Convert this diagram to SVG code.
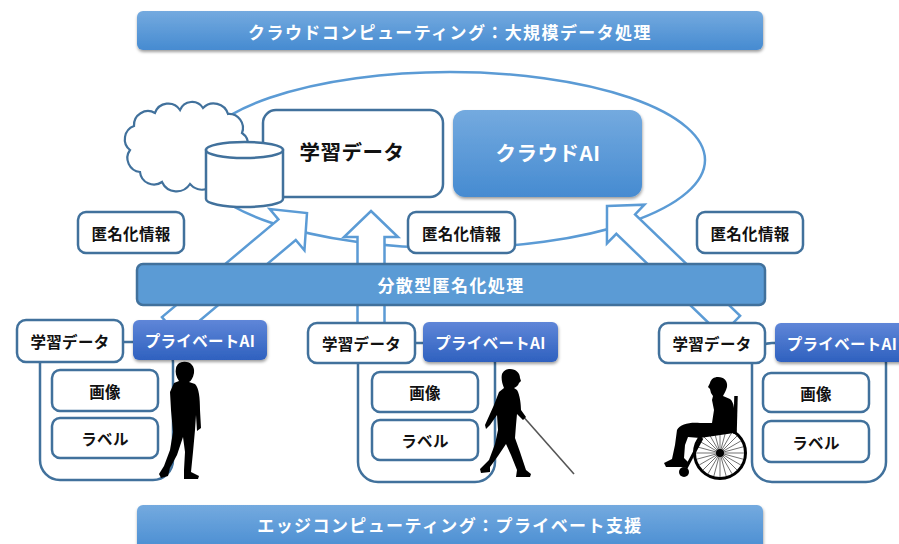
<svg xmlns="http://www.w3.org/2000/svg" width="899" height="544" viewBox="0 0 899 544">
  <defs>
    <linearGradient id="gBlue" x1="0" y1="0" x2="0" y2="1">
      <stop offset="0" stop-color="#74aadf"/>
      <stop offset="1" stop-color="#468bd1"/>
    </linearGradient>
    <linearGradient id="gPriv" x1="0" y1="0" x2="0" y2="1">
      <stop offset="0" stop-color="#5f86d8"/>
      <stop offset="1" stop-color="#2f61bf"/>
    </linearGradient>
    <filter id="sh" x="-10%" y="-20%" width="120%" height="160%">
      <feDropShadow dx="0.5" dy="2" stdDeviation="1.6" flood-color="#000" flood-opacity="0.38"/>
    </filter>
    <style>
      text { font-family: "Noto Sans CJK JP", "Noto Sans", sans-serif; font-weight: bold; text-anchor: middle; dominant-baseline: central; }
      .wt { fill: #ffffff; }
      .bk { fill: #111111; }
      .banner { fill: url(#gBlue); filter: url(#sh); }
      .box { fill: #ffffff; stroke: #41719c; stroke-width: 2.5; }
      .frame { fill: #ffffff; stroke: #41719c; stroke-width: 2.5; }
      .priv { fill: url(#gPriv); filter: url(#sh); }
      .arrow { fill: #ffffff; stroke: #5b9bd5; stroke-width: 2.5; stroke-linejoin: miter; }
      .big { font-size: 17px; letter-spacing: 1.4px; }
      .mid { font-size: 20.5px; letter-spacing: 0.5px; }
      .sm { font-size: 15.5px; letter-spacing: 0.3px; }
      .fig { fill: #000000; }
    </style>
  </defs>

  <!-- Banners -->
  <g id="cloud-banner">
    <rect class="banner" x="137" y="11" width="626" height="39" rx="6"/>
    <text class="wt big" x="450" y="31">クラウドコンピューティング：大規模データ処理</text>
  </g>
  <g id="edge-banner">
    <rect class="banner" x="137" y="505" width="626" height="48" rx="6"/>
    <text class="wt big" x="450" y="524">エッジコンピューティング：プライベート支援</text>
  </g>

  <!-- Cloud domain boundary -->
  <g id="cloud-domain">
    <ellipse cx="450" cy="160" rx="255" ry="88" fill="none" stroke="#5b9bd5" stroke-width="2.5"/>
  </g>

  <!-- Upward block arrows -->
  <g id="connectors">
    <path class="arrow" transform="translate(307,213) rotate(50)" d="M0,0 L27,26 L13.5,26 L13.5,178 L-13.5,178 L-13.5,26 L-27,26 Z"/>
    <path class="arrow" transform="translate(371,211)" d="M0,0 L27,26 L13.5,26 L13.5,116 L-13.5,116 L-13.5,26 L-27,26 Z"/>
    <path class="arrow" transform="translate(607,206) rotate(-46)" d="M0,0 L27,26 L13.5,26 L13.5,172 L-13.5,172 L-13.5,26 L-27,26 Z"/>
  </g>

  <!-- Cloud storage -->
  <g id="cloud-icon">
    <path d="M140,172 A14,14 0 0 1 130,150 A14,14 0 0 1 134,126 A14,14 0 0 1 155,113 A14,14 0 0 1 180,110 A13,13 0 0 1 203,108 A15,15 0 0 1 228,114 A14,14 0 0 1 242,133 A14,14 0 0 1 238,158 A15,15 0 0 1 218,176 A16,16 0 0 1 190,184 A16,16 0 0 1 162,182 A14,14 0 0 1 140,172 Z" fill="#ffffff" stroke="#41719c" stroke-width="2.2"/>
  </g>
  <g id="cloud-data">
    <rect class="box" x="263" y="110" width="180" height="87" rx="13"/>
    <text class="bk mid" x="352" y="151">学習データ</text>
  </g>
  <g id="database">
    <path d="M206,150 V199 A38.5,8 0 0 0 283,199 V150 Z" fill="#ffffff" stroke="#41719c" stroke-width="2.5"/>
    <ellipse cx="244.5" cy="150" rx="38.5" ry="8" fill="#ffffff" stroke="#41719c" stroke-width="2.5"/>
  </g>
  <g id="cloud-ai">
    <rect x="453" y="110" width="189" height="87" rx="12" fill="url(#gBlue)" filter="url(#sh)"/>
    <text class="wt mid" x="548" y="152">クラウドAI</text>
  </g>

  <!-- Anonymized information labels -->
  <g id="anon-left">
    <rect class="box" x="78" y="212" width="106" height="41" rx="8"/>
    <text class="bk sm" x="131" y="232.5">匿名化情報</text>
  </g>
  <g id="anon-center">
    <rect class="box" x="408" y="212" width="107" height="41" rx="8"/>
    <text class="bk sm" x="461.5" y="232.5">匿名化情報</text>
  </g>
  <g id="anon-right">
    <rect class="box" x="697" y="212" width="106" height="41" rx="8"/>
    <text class="bk sm" x="750" y="232.5">匿名化情報</text>
  </g>

  <!-- Distributed anonymization bar -->
  <g id="anonymizer">
    <rect x="137" y="264" width="628" height="41" rx="6" fill="#5b9bd5" stroke="#41719c" stroke-width="2.5"/>
    <text class="wt big" x="451" y="284.5">分散型匿名化処理</text>
  </g>

  <!-- Edge device: pedestrian -->
  <g id="edge-left">
    <rect class="frame" x="40" y="342" width="133" height="138" rx="20"/>
    <rect class="box" x="17" y="320" width="106" height="42" rx="9"/>
    <text class="bk sm" x="70" y="341">学習データ</text>
    <rect class="priv" x="133" y="320" width="134" height="40" rx="6"/>
    <text class="wt sm" x="200" y="340">プライベートAI</text>
    <rect class="box" x="52" y="370" width="106" height="41" rx="8"/>
    <text class="bk sm" x="105" y="390.5">画像</text>
    <rect class="box" x="52" y="418" width="106" height="40" rx="8"/>
    <text class="bk sm" x="105" y="438">ラベル</text>
    <path class="fig" d="M183,362 C190,361 195,366 194,373 C193,378 191,381 189,382 L195,384 C199,388 200,398 200,410 L201,428 L197,431 L196,415 L195,430 L193,452 L191,472 L199,476 L198,479 L184,479 L184,470 L185,452 L183,437 L177,455 L170,468 L168,476 L161,478 L159,474 L164,466 L170,450 L173,432 L171,410 L170,392 L174,383 L179,381 C176,377 175,372 176,368 C177,364 180,362 183,362 Z"/>
  </g>

  <!-- Edge device: person with white cane -->
  <g id="edge-center">
    <rect class="frame" x="358" y="343" width="137" height="139" rx="20"/>
    <rect class="box" x="308" y="323" width="107" height="40" rx="9"/>
    <text class="bk sm" x="361.5" y="343">学習データ</text>
    <rect class="priv" x="423" y="322" width="135" height="40" rx="6"/>
    <text class="wt sm" x="490.5" y="342">プライベートAI</text>
    <rect class="box" x="372" y="372" width="106" height="40" rx="8"/>
    <text class="bk sm" x="425" y="392">画像</text>
    <rect class="box" x="372" y="420" width="106" height="40" rx="8"/>
    <text class="bk sm" x="425" y="440">ラベル</text>
    <line x1="521" y1="414" x2="574" y2="474" stroke="#555555" stroke-width="1.6"/>
    <path class="fig" d="M510,369 C516,369 520,373 520,378 L521,381 L519,383 C518,386 516,387 514,388 L517,390 C520,395 521,405 521,410 L526,417 L523,420 L517,414 L516,425 L515,438 L520,452 L526,470 L531,474 L530,477 L516,477 L517,470 L511,455 L506,444 L498,456 L490,467 L490,472 L481,473 L480,469 L489,460 L495,444 L498,430 L497,415 L490,425 L486,429 L485,425 L494,405 L499,392 L504,388 C502,383 501,378 502,374 C504,370 507,369 510,369 Z"/>
  </g>

  <!-- Edge device: wheelchair user -->
  <g id="edge-right">
    <rect class="frame" x="752" y="343" width="134" height="139" rx="20"/>
    <rect class="box" x="659" y="323" width="106" height="40" rx="9"/>
    <text class="bk sm" x="712" y="343">学習データ</text>
    <rect class="priv" x="775" y="323" width="134" height="39" rx="6"/>
    <text class="wt sm" x="842" y="342.5">プライベートAI</text>
    <rect class="box" x="763" y="373" width="106" height="39" rx="8"/>
    <text class="bk sm" x="816" y="392.5">画像</text>
    <rect class="box" x="763" y="421" width="106" height="41" rx="8"/>
    <text class="bk sm" x="816" y="441.5">ラベル</text>
    <circle cx="720" cy="453" r="25.5" fill="none" stroke="#000" stroke-width="3"/>
    <path d="M744,453 L696,453 M743.2,459.2 L696.8,446.8 M740.8,465 L699.2,441 M737,470 L703,436 M732,473.8 L708,432.2 M726.2,476.2 L713.8,429.8 M720,477 L720,429 M713.8,476.2 L726.2,429.8 M708,473.8 L732,432.2 M703,470 L737,436 M699.2,465 L740.8,441 M696.8,459.2 L743.2,446.8" stroke="#333" stroke-width="0.7" fill="none"/>
    <circle class="fig" cx="720" cy="453" r="4"/>
    <line x1="736" y1="396" x2="735" y2="434" stroke="#000" stroke-width="3.5"/>
    <line x1="702" y1="438" x2="686" y2="468" stroke="#000" stroke-width="3"/>
    <circle class="fig" cx="684" cy="472" r="5"/>
    <path class="fig" d="M718,377 C724,377 728,381 727,387 C726,391 724,394 723,396 L730,399 C734,402 735,410 734,420 L734,433 L700,438 L688,437 L685,445 L684,458 L688,462 L687,467 L666,467 L664,463 L672,459 L675,445 L677,430 C680,424 690,422 700,423 L712,423 L714,410 L712,400 L713,396 L711,393 L710,389 L708,387 L710,383 C711,379 714,377 718,377 Z"/>
  </g>
</svg>
